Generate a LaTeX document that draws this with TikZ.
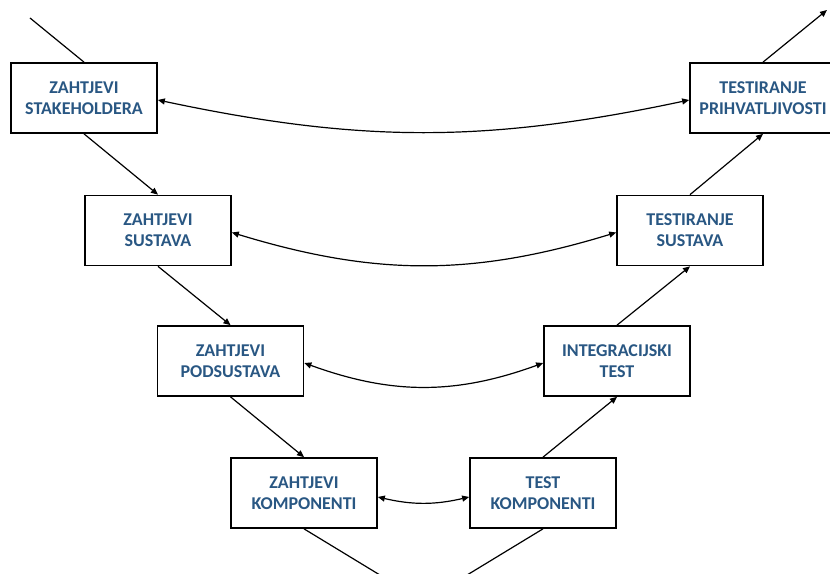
\documentclass[tikz,border=0pt]{standalone}
\usepackage{fontspec}
\setmainfont{Carlito}
\usepackage{tikz}
\usetikzlibrary{arrows.meta, positioning}

\definecolor{stageblue}{HTML}{295783}

\tikzset{
  stagebox/.style={draw=black, line width=1.7pt, fill=white,
    minimum width=146pt, minimum height=70pt, align=center,
    text=stageblue, font=\fontsize{18}{21}\selectfont\bfseries},
  flow/.style={line width=1.2pt, -{Triangle[length=7pt,width=6pt]}},
  plainflow/.style={line width=1.2pt},
  pairlink/.style={line width=1.2pt,
    {Triangle[length=7pt,width=6pt]}-{Triangle[length=7pt,width=6pt]}}
}

\begin{document}
\begin{tikzpicture}[x=1pt, y=1pt]
  \useasboundingbox (0,0) rectangle (830,573);
  \clip (0,0) rectangle (830,573);

  % left side of the V
  \node[stagebox] (zstake) at (84,475)   {ZAHTJEVI\\STAKEHOLDERA};
  \node[stagebox] (zsust)  at (158,342.5) {ZAHTJEVI\\SUSTAVA};
  \node[stagebox] (zpod)   at (230.5,212) {ZAHTJEVI\\PODSUSTAVA};
  \node[stagebox] (zkomp)  at (304,80)    {ZAHTJEVI\\KOMPONENTI};

  % right side of the V
  \node[stagebox] (tkomp)  at (543,80)    {TEST\\KOMPONENTI};
  \node[stagebox] (tint)   at (617,212)   {INTEGRACIJSKI\\TEST};
  \node[stagebox] (tsust)  at (690,342.5) {TESTIRANJE\\SUSTAVA};
  \node[stagebox] (tprih)  at (763,475)   {TESTIRANJE\\PRIHVATLJIVOSTI};

  \coordinate (vstart)  at (30,555);
  \coordinate (vend)    at (827,563);
  \coordinate (vbottom) at (423.5,-28.5);

  % down the left side
  \draw[plainflow] (vstart) -- (zstake.north);
  \draw[flow] (zstake.south) -- (zsust.north);
  \draw[flow] (zsust.south) -- (zpod.north);
  \draw[flow] (zpod.south) -- (zkomp.north);
  \draw[plainflow] (zkomp.south) -- (vbottom) -- (tkomp.south);

  % up the right side
  \draw[flow] (tkomp.north) -- (tint.south);
  \draw[flow] (tint.north) -- (tsust.south);
  \draw[flow] (tsust.north) -- (tprih.south);
  \draw[flow] (tprih.north) -- (vend);

  % links between levels
  \draw[pairlink] ([yshift=-2pt]zstake.east) to[bend right=12] ([yshift=-2pt]tprih.west);
  \draw[pairlink] ([yshift=-2pt]zsust.east) to[bend right=17] ([yshift=-2pt]tsust.west);
  \draw[pairlink] ([yshift=-2pt]zpod.east) to[bend right=20] ([yshift=-2pt]tint.west);
  \draw[pairlink] ([yshift=-4pt]zkomp.east) to[bend right=13] ([yshift=-4pt]tkomp.west);
\end{tikzpicture}
\end{document}
